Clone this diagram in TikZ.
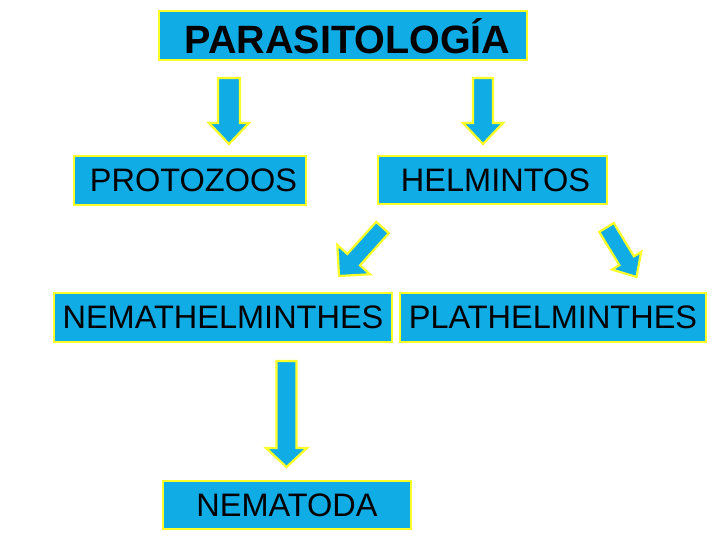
\documentclass[tikz,border=0pt]{standalone}
\usepackage{fontspec}
\setmainfont{Liberation Sans}
\usetikzlibrary{calc}
\definecolor{boxblue}{RGB}{16,172,230}
\definecolor{edgeyellow}{RGB}{255,255,40}
\tikzset{
  catbox/.style={draw=edgeyellow, line width=2pt, fill=boxblue, inner sep=0pt,
    text=black, font=\fontsize{32.5}{35}\selectfont},
  blockarrow/.style={draw=edgeyellow, line width=2.2pt, fill=boxblue, line join=miter}
}
% #1 start coord, #2 tip coord, #3 shaft half width, #4 head half width, #5 head length
\newcommand\blockarr[5]{%
  \draw[blockarrow]
    ($(#1)!#3!90:(#2)$) --
    ($($(#2)!#5!(#1)$)!#3!90:(#2)$) --
    ($($(#2)!#5!(#1)$)!#4!90:(#2)$) --
    (#2) --
    ($($(#2)!#5!(#1)$)!#4!-90:(#2)$) --
    ($($(#2)!#5!(#1)$)!#3!-90:(#2)$) --
    ($(#1)!#3!-90:(#2)$) -- cycle;
}
\begin{document}
\begin{tikzpicture}[x=1pt,y=-1pt]
\useasboundingbox (0,0) rectangle (720,540);
\fill[white] (0,0) rectangle (720,540);

\node[catbox, minimum width=368pt, minimum height=49pt,
      font=\fontsize{39.5}{42}\selectfont\bfseries] (title) at (342.5,36) {\hspace*{10pt}PARASITOLOGÍA};
\node[catbox, minimum width=232pt, minimum height=49pt] (prot) at (190,180.5) {\hspace*{7pt}PROTOZOOS};
\node[catbox, minimum width=229pt, minimum height=48pt] (helm) at (492.5,180.5) {\hspace*{6pt}HELMINTOS};
\node[catbox, minimum width=338pt, minimum height=49pt] (nema) at (223,317.5) {NEMATHELMINTHES};
\node[catbox, minimum width=306pt, minimum height=49pt] (plat) at (553,317.5) {PLATHELMINTHES};
\node[catbox, minimum width=248pt, minimum height=48pt] (nemd) at (287,505) {NEMATODA};

\coordinate (a1s) at (229,78);
\coordinate (a1e) at (229,144);
\coordinate (a2s) at (483,78);
\coordinate (a2e) at (483,144);
\coordinate (a3s) at (382.5,227.5);
\coordinate (a3e) at (339,276);
\coordinate (a4s) at (606.5,227.5);
\coordinate (a4e) at (636.5,277);
\coordinate (a5s) at (286.5,361);
\coordinate (a5e) at (286.5,467);

\blockarr{a1s}{a1e}{11pt}{20pt}{21pt}
\blockarr{a2s}{a2e}{10pt}{20pt}{21pt}
\blockarr{a3s}{a3e}{8.5pt}{22pt}{22pt}
\blockarr{a4s}{a4e}{8.5pt}{17pt}{19pt}
\blockarr{a5s}{a5e}{10pt}{20.5pt}{19pt}
\end{tikzpicture}
\end{document}
